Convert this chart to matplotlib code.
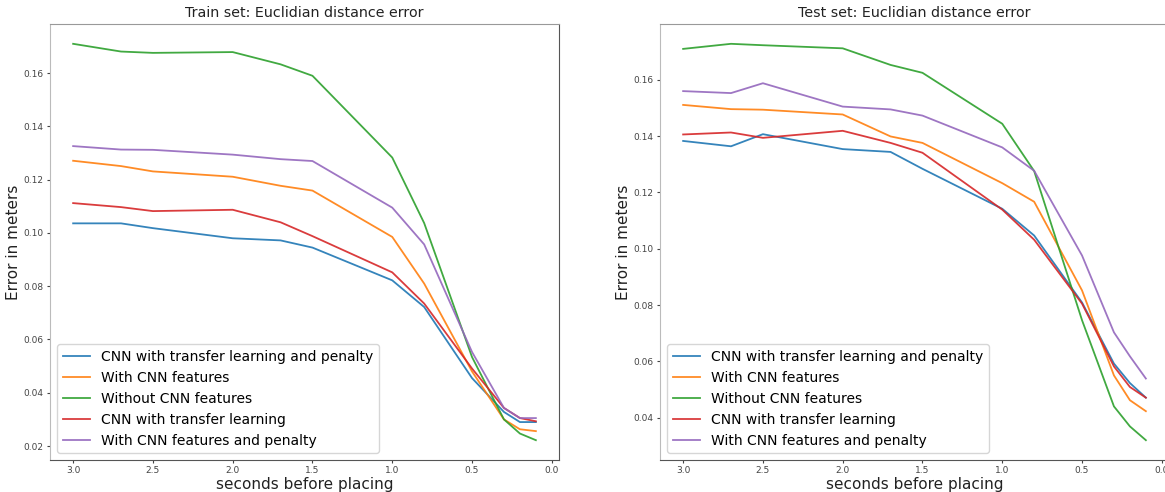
import matplotlib
matplotlib.use("Agg")
import matplotlib.pyplot as plt

# seconds before placing (x axis, shown inverted)
SECONDS = [3.0, 2.7, 2.5, 2.0, 1.7, 1.5, 1.0, 0.8, 0.5, 0.3, 0.2, 0.1]

LABELS = ["CNN with transfer learning and penalty", "With CNN features",
          "Without CNN features", "CNN with transfer learning",
          "With CNN features and penalty"]

# train set errors (m)
TRAIN_TL_PEN = [0.1036, 0.1036, 0.1018, 0.0980, 0.0972, 0.0945, 0.0822, 0.0722, 0.0455, 0.0328, 0.0290, 0.0290]
TRAIN_CNN = [0.1271, 0.1251, 0.1231, 0.1211, 0.1177, 0.1159, 0.0985, 0.0810, 0.0480, 0.0300, 0.0263, 0.0256]
TRAIN_NO_CNN = [0.1710, 0.1681, 0.1676, 0.1679, 0.1633, 0.1590, 0.1283, 0.1037, 0.0534, 0.0300, 0.0247, 0.0222]
TRAIN_TL = [0.1112, 0.1097, 0.1082, 0.1087, 0.1040, 0.0988, 0.0852, 0.0735, 0.0491, 0.0343, 0.0305, 0.0293]
TRAIN_CNN_PEN = [0.1326, 0.1313, 0.1312, 0.1294, 0.1277, 0.1270, 0.1095, 0.0957, 0.0553, 0.0343, 0.0305, 0.0305]

# test set errors (m)
TEST_TL_PEN = [0.1383, 0.1364, 0.1407, 0.1354, 0.1344, 0.1284, 0.1142, 0.1047, 0.0809, 0.0592, 0.0523, 0.0471]
TEST_CNN = [0.1511, 0.1496, 0.1494, 0.1477, 0.1399, 0.1376, 0.1233, 0.1167, 0.0852, 0.0550, 0.0462, 0.0423]
TEST_NO_CNN = [0.1710, 0.1728, 0.1723, 0.1712, 0.1653, 0.1625, 0.1444, 0.1276, 0.0746, 0.0440, 0.0369, 0.0320]
TEST_TL = [0.1406, 0.1413, 0.1394, 0.1419, 0.1376, 0.1341, 0.1139, 0.1032, 0.0805, 0.0582, 0.0509, 0.0471]
TEST_CNN_PEN = [0.1560, 0.1553, 0.1588, 0.1505, 0.1495, 0.1473, 0.1360, 0.1277, 0.0976, 0.0703, 0.0618, 0.0539]

TRAIN = [TRAIN_TL_PEN, TRAIN_CNN, TRAIN_NO_CNN, TRAIN_TL, TRAIN_CNN_PEN]
TEST = [TEST_TL_PEN, TEST_CNN, TEST_NO_CNN, TEST_TL, TEST_CNN_PEN]

W, H = 1165, 492
fig = plt.figure(figsize=(W / 100, H / 100), dpi=100)


def panel(rect, series, title):
    ax = fig.add_axes(rect)
    for vals, lab in zip(series, LABELS):
        ax.plot(SECONDS, vals, linewidth=1.3, alpha=0.9, label=lab)
    ax.invert_xaxis()
    ax.set_title(title, fontsize=10.3, color="#222222", pad=5)
    ax.set_xlabel("seconds before placing", fontsize=11, color="#222222", labelpad=1)
    ax.set_ylabel("Error in meters", fontsize=11, color="#222222", labelpad=2)
    ax.tick_params(labelsize=6.5, colors="#444444", length=2.5, pad=2)
    ax.spines["left"].set_color("#bbbbbb")
    ax.spines["top"].set_color("#999999")
    ax.spines["right"].set_color("#555555")
    ax.spines["bottom"].set_color("#555555")
    ax.legend(loc="lower left", fontsize=10, handlelength=2.0)
    return ax


# axes positions in pixels: left, right, top, bottom
panel([50 / W, (H - 460) / H, 509 / W, 436 / H], TRAIN,
      "Train set: Euclidian distance error")
panel([660 / W, (H - 460) / H, 509 / W, 436 / H], TEST,
      "Test set: Euclidian distance error")

fig.savefig("out.png", dpi=100)
